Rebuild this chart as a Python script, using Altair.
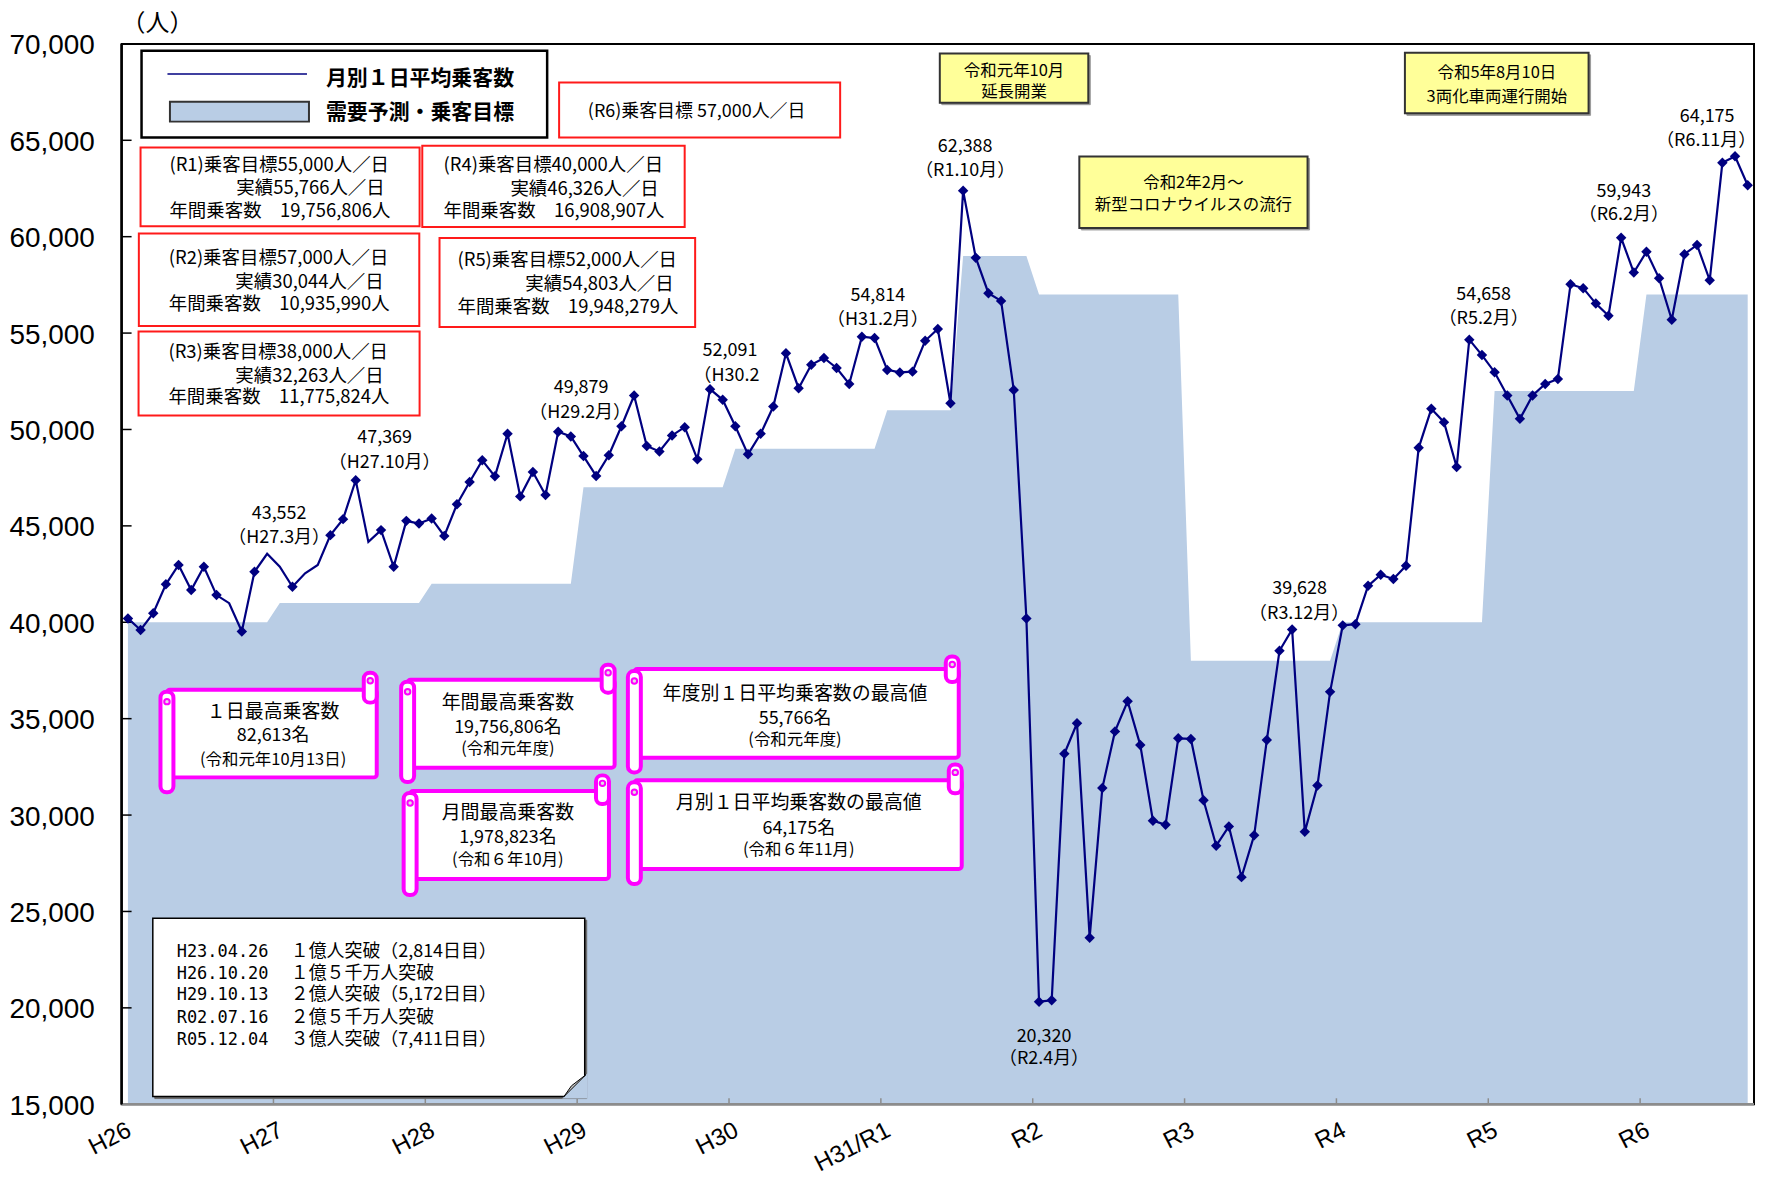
import altair as alt
import pandas as pd

# ---------------- data ----------------
months = [f"{2014 + (m + 3) // 12}-{(m + 3) % 12 + 1:02d}" for m in range(129)]  # 2014-04 .. 2024-12

riders = [
    40200, 39600, 40470, 41970, 42970, 41670, 42880, 41410, 40990, 39520, 42620, 43552,   # H26
    42880, 41840, 42540, 42970, 44520, 45350, 47369, 44170, 44780, 42880, 45260, 45120,   # H27
    45380, 44480, 46120, 47280, 48400, 47570, 49780, 46530, 47790, 46600, 49879, 49640,   # H28
    48620, 47590, 48660, 50170, 51760, 49140, 48860, 49690, 50120, 48450, 52091, 51540,   # H29
    50170, 48710, 49780, 51190, 53950, 52140, 53360, 53710, 53190, 52360, 54814, 54740,   # H30
    53090, 52960, 53000, 54600, 55210, 51360, 62388, 58910, 57070, 56670, 52050, 40200,   # R1
    20320, 20390, 33180, 34760, 23640, 31400, 34340, 35900, 33630, 29710, 29500, 33980,   # R2
    33950, 30770, 28410, 29410, 26780, 28950, 33890, 38520, 39628, 29130, 31530, 36390,   # R3
    39840, 39900, 41890, 42470, 42240, 42930, 49050, 51070, 50380, 48050, 54658, 53860,   # R4
    52970, 51760, 50550, 51760, 52360, 52620, 57530, 57330, 56530, 55900, 59943, 58140,   # R5
    59220, 57840, 55690, 59090, 59570, 57740, 63833, 64175, 62670,                        # R6
]

target_steps = [
    ("2014-04", 40000), ("2015-04", 41000), ("2016-04", 42000), ("2017-04", 47000),
    ("2018-04", 49000), ("2019-04", 51000), ("2019-10", 59000), ("2020-04", 57000),
    ("2021-04", 38000), ("2022-04", 40000), ("2023-04", 52000), ("2024-04", 57000),
]

no_marker_months = ["2014-12", "2015-03", "2015-04", "2015-06", "2015-07", "2015-11"]

year_labels = ["H26", "H27", "H28", "H29", "H30", "H31/R1", "R2", "R3", "R4", "R5", "R6"]
y_ticks = list(range(15000, 70001, 5000))

peak_months = ["2015-03", "2015-10", "2017-02", "2018-02", "2019-02", "2019-10",
               "2020-04", "2021-12", "2023-02", "2024-02", "2024-11"]
peak_notes = ["（H27.3月）", "（H27.10月）", "（H29.2月）", "（H30.2", "（H31.2月）", "（R1.10月）",
              "（R2.4月）", "（R3.12月）", "（R5.2月）", "（R6.2月）", "（R6.11月）"]

target = []
for mo in months:
    val = None
    for start, v in target_steps:
        if start <= mo:
            val = v
    target.append(val)

n = len(months)
df = pd.DataFrame({"i": list(range(n)), "month": months, "riders": riders, "target": target})

# ---------------- styling ----------------
W, H = 1638, 1064
JP = "Noto Sans CJK JP"
LAT = "Liberation Sans"
NAVY = "#000080"
AREA = "#B9CDE5"
MAG = "#FF00FF"
RED = "#FF1A1A"
YEL = "#FFFF99"
AXGRAY = "#8c8c8c"

x_scale = alt.Scale(domain=[-0.5, n - 0.5], nice=False, zero=False)
y_scale = alt.Scale(domain=[15000, 70000], nice=False, zero=False)

year_bounds = [-0.5 + 12 * k for k in range(len(year_labels))]

X = lambda f: alt.X(f, scale=x_scale, axis=None)
Y = lambda f: alt.Y(f, scale=y_scale, axis=None)

base = alt.Chart(df)
area = base.mark_area(color=AREA, opacity=1, interpolate="linear").encode(
    x=X("i:Q"), y=Y("target:Q"), y2=alt.datum(15000),
)
line = base.mark_line(color=NAVY, strokeWidth=2.2).encode(x=X("i:Q"), y=Y("riders:Q"))
nm = "[" + ",".join(f"'{m}'" for m in no_marker_months) + "]"
points = base.transform_filter(f"indexof({nm}, datum.month) < 0").mark_point(
    shape="diamond", filled=True, size=110, color=NAVY, opacity=1
).encode(x=X("i:Q"), y=Y("riders:Q"))

# axes drawn by hand (inward ticks as in the original)
ydf = pd.DataFrame({"v": y_ticks, "lab": [f"{v:,}" for v in y_ticks]})
ytick_layer = alt.Chart(ydf[(ydf.v > 15000) & (ydf.v < 70000)]).mark_rule(
    color="black", strokeWidth=1.5
).encode(y=Y("v:Q"), x=alt.value(0), x2=alt.value(10))
ylab_layer = alt.Chart(ydf).mark_text(
    align="right", baseline="middle", font=LAT, fontSize=28, color="black", dy=2.5
).encode(y=Y("v:Q"), x=alt.value(-27), text="lab:N")

xdf = pd.DataFrame({"b": year_bounds, "lab": year_labels})
xtick_layer = alt.Chart(xdf.iloc[1:]).mark_rule(color=AXGRAY, strokeWidth=1.5).encode(
    x=X("b:Q"), y=alt.value(H - 6), y2=alt.value(H))
xlab_layer = alt.Chart(xdf).mark_text(
    align="right", baseline="middle", font=LAT, fontSize=24, color="black", angle=333, dx=9
).encode(x=X("b:Q"), y=alt.value(H + 29), text="lab:N")
xaxis_line = alt.Chart(pd.DataFrame({"k": [0]})).mark_rule(color=AXGRAY, strokeWidth=2.5).encode(
    x=alt.value(0), x2=alt.value(W), y=alt.value(H))
yaxis_line = alt.Chart(pd.DataFrame({"k": [0]})).mark_rule(color="black", strokeWidth=2.5).encode(
    x=alt.value(0), y=alt.value(0), y2=alt.value(H))

layers = [area, ytick_layer, xtick_layer, line, points, xaxis_line, yaxis_line,
          ylab_layer, xlab_layer]

# ---------------- helpers ----------------
one = pd.DataFrame({"k": [0]})


def rect(x1, y1, x2, y2, fill, stroke, sw, radius=0):
    kw = dict(fill=fill, stroke=stroke, strokeWidth=sw, opacity=1)
    if radius:
        kw["cornerRadius"] = radius
    return alt.Chart(one).mark_rect(**kw).encode(
        x=alt.value(x1), x2=alt.value(x2), y=alt.value(y1), y2=alt.value(y2))


def text(s, x, y, size, align="center", font=JP, weight="normal", color="black"):
    return alt.Chart(pd.DataFrame({"t": [s]})).mark_text(
        align=align, baseline="middle", font=font, fontSize=size, fontWeight=weight, color=color
    ).encode(x=alt.value(x), y=alt.value(y), text="t:N")


def dot(x, y, size, stroke, fill="white", sw=2, shape="circle"):
    return alt.Chart(one).mark_point(shape=shape, filled=True, fill=fill, stroke=stroke,
                                     strokeWidth=sw, size=size, opacity=1).encode(
        x=alt.value(x), y=alt.value(y))


# ---------------- peak labels (through the scales) ----------------
label_offsets = [(12, -40, 12, -15.5), (29, -42.5, 29, -17.5), (23, -43.6, 22, -19),
                 (20, -38.5, 16.5, -13.5), (16, -41, 16, -17), (2, -44, 2, -20),
                 (5, 35, 5, 58), (7.5, -41, 7, -15.6), (14.4, -44.6, 14.4, -20.3),
                 (2.7, -45.7, 2.7, -22.4), (-28, -39, -29, -15)]
for mo, note, (dx1, dy1, dx2, dy2) in zip(peak_months, peak_notes, label_offsets):
    idx = months.index(mo)
    row = pd.DataFrame({"i": [idx], "v": [riders[idx]], "t1": [f"{riders[idx]:,}"], "t2": [note]})
    for fld, dx, dy in (("t1", dx1, dy1), ("t2", dx2, dy2)):
        layers.append(alt.Chart(row).mark_text(
            font=JP, fontSize=18, color="black", dx=dx, dy=dy, baseline="middle", align="center"
        ).encode(x=X("i:Q"), y=Y("v:Q"), text=f"{fld}:N"))

# ---------------- legend box ----------------
layers += [
    rect(20, 7, 427, 94, "white", "black", 2.5),
    alt.Chart(one).mark_rule(color=NAVY, strokeWidth=1.5).encode(
        x=alt.value(46), x2=alt.value(186), y=alt.value(30.3)),
    text("月別１日平均乗客数", 205, 35, 21, align="left", weight="bold"),
    rect(48.5, 58, 188, 78, AREA, "#333333", 2),
    text("需要予測・乗客目標", 205, 69, 21, align="left", weight="bold"),
]

# ---------------- red target boxes ----------------
red_boxes = [
    ((19, 104, 299, 183), 48, 264, (121.3, 144.7, 167.3),
     ("(R1)乗客目標55,000人／日", "実績55,766人／日", "年間乗客数　19,756,806人")),
    ((17.3, 190.3, 298.7, 283), 47.3, 263, (215.3, 239, 261.3),
     ("(R2)乗客目標57,000人／日", "実績30,044人／日", "年間乗客数　10,935,990人")),
    ((17, 288.7, 299, 373), 47, 263, (309, 333, 354.7),
     ("(R3)乗客目標38,000人／日", "実績32,263人／日", "年間乗客数　11,775,824人")),
    ((301.7, 102.3, 565, 183.7), 323, 539, (121.3, 145.7, 167.3),
     ("(R4)乗客目標40,000人／日", "実績46,326人／日", "年間乗客数　16,908,907人")),
    ((319, 194.7, 575.5, 284), 337, 554, (217.3, 241.3, 264),
     ("(R5)乗客目標52,000人／日", "実績54,803人／日", "年間乗客数　19,948,279人")),
]
for (x1, y1, x2, y2), lx, rx, ys, lines in red_boxes:
    layers.append(rect(x1, y1, x2, y2, "white", RED, 2))
    layers.append(text(lines[0], lx, ys[0], 18.5, align="left"))
    layers.append(text(lines[1], rx, ys[1], 18.5, align="right"))
    layers.append(text(lines[2], lx, ys[2], 18.5, align="left"))

layers.append(rect(439, 38.7, 721, 94, "white", RED, 2))
layers.append(text("(R6)乗客目標 57,000人／日", 577, 68, 18))

# ---------------- yellow notes ----------------
yellow = [
    ((821, 9.7, 970, 59), 895.5, (27.5, 48.5), ("令和元年10月", "延長開業")),
    ((1287.7, 9, 1472, 69.7), 1380, (29.2, 53.5), ("令和5年8月10日", "3両化車両運行開始")),
    ((961, 113, 1190, 184.7), 1075.5, (139.2, 161.2), ("令和2年2月～", "新型コロナウイルスの流行")),
]
for (x1, y1, x2, y2), cx, ys, lines in yellow:
    layers.append(rect(x1 + 2, y1 + 2, x2 + 2, y2 + 2, "#9a9a9a", "#9a9a9a", 1))
    layers.append(rect(x1, y1, x2, y2, YEL, "#333333", 2))
    for s, yy in zip(lines, ys):
        layers.append(text(s, cx, yy, 16.5))

# ---------------- scroll call-outs ----------------
scrolls = [
    ((39, 648, 256, 736, 751, 631), 152, (670, 695, 719),
     ("１日最高乗客数", "82,613名", "(令和元年10月13日)")),
    ((280.5, 638, 494.7, 726.3, 740.7, 623), 387.6, (661, 686, 708),
     ("年間最高乗客数", "19,756,806名", "(令和元年度)")),
    ((508, 627.3, 840, 716.3, 731, 614.7), 675.7, (652, 677.7, 699),
     ("年度別１日平均乗客数の最高値", "55,766名", "(令和元年度)")),
    ((283, 749.7, 489, 838, 854, 734), 387.6, (772, 797, 819),
     ("月間最高乗客数", "1,978,823名", "(令和６年10月)")),
    ((508, 739, 843, 828, 843, 723), 679.5, (762, 788, 809),
     ("月別１日平均乗客数の最高値", "64,175名", "(令和６年11月)")),
]
R = 13
for (x1, y1, x2, y2, lb, rt), cx, ys, lines in scrolls:
    layers.append(rect(x1 + R / 2, y1, x2, y2, "white", MAG, 4, radius=3))
    layers.append(rect(x2 - R, rt, x2, y1 + R, "white", MAG, 4, radius=6))
    layers.append(rect(x1, y1 + 2, x1 + R, lb, "white", MAG, 4, radius=6))
    layers.append(dot(x2 - R / 2, rt + 8, 30, MAG, fill="#e0e0e0", sw=2))
    layers.append(dot(x1 + R / 2, y1 + 12, 30, MAG, fill="#e0e0e0", sw=2))
    layers.append(text(lines[0], cx, ys[0], 19))
    layers.append(text(lines[1], cx, ys[1], 18))
    layers.append(text(lines[2], cx, ys[2], 16.5))

# ---------------- milestone note ----------------
layers.append(rect(33.3, 879.3, 466.7, 1058.3, "#6a6a6a", "#6a6a6a", 1))
layers.append(rect(31.3, 877.3, 464.7, 1056.3, "white", "black", 1.5))
layers.append(dot(455.5, 1046.3, 484, AREA, fill=AREA, sw=2, shape="M -1 1 L 1 -1 L 1 1 Z"))
layers.append(dot(454.7, 1045.5, 484, "black", fill="#c8c8c8", sw=1, shape="M -1 1 L 1 -1 L -0.3 0 Z"))
milestones = [
    ("H23.04.26", "１億人突破（2,814日目）"),
    ("H26.10.20", "１億５千万人突破"),
    ("H29.10.13", "２億人突破（5,172日目）"),
    ("R02.07.16", "２億５千万人突破"),
    ("R05.12.04", "３億人突破（7,411日目）"),
]
for (d, s), yy in zip(milestones, (911.3, 933, 954, 977.3, 999.7)):
    layers.append(text(d, 55.3, yy, 17, align="left", font="DejaVu Sans Mono"))
    layers.append(text(s, 169.7, yy, 18, align="left"))

# unit label
layers.append(text("（人）", 0, -20, 24, align="left"))

chart = alt.layer(*layers).properties(
    width=W, height=H,
    padding={"left": 114, "top": 34, "right": 4, "bottom": 76},
    autosize=alt.AutoSizeParams(type="none"),
).configure_view(stroke="black", strokeWidth=2)

chart.save("out.html", embed_options={"renderer": "svg", "actions": False})
